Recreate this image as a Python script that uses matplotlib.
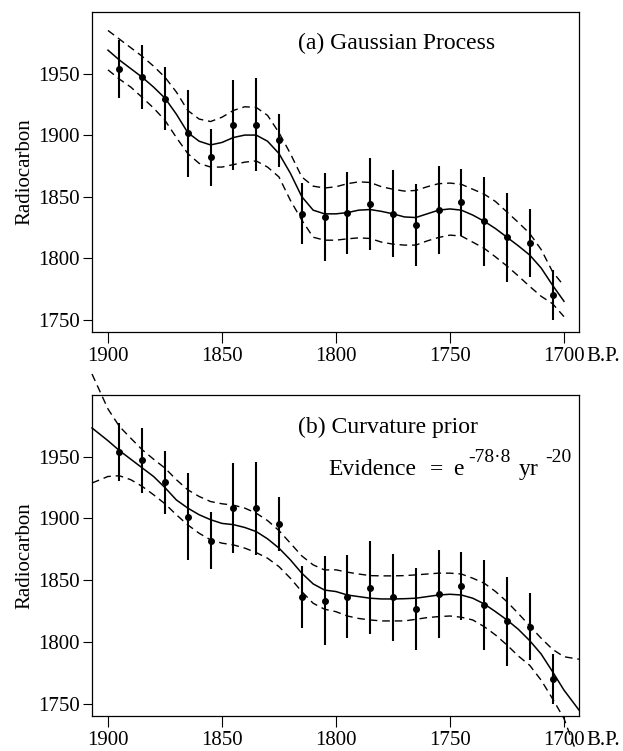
import numpy as np
import matplotlib.pyplot as plt

plt.rcParams['font.family'] = ['Liberation Serif', 'DejaVu Serif']

# radiocarbon determinations (calendar years B.P., radiocarbon age, 1-sigma)
years_obs = [1895, 1885, 1875, 1865, 1855, 1845, 1835, 1825, 1815, 1805,
             1795, 1785, 1775, 1765, 1755, 1745, 1735, 1725, 1715, 1705]
c14_obs = [1953.8, 1947, 1929.4, 1901.5, 1882, 1908.3, 1908.4, 1895.6, 1836.2, 1833.5,
           1836.7, 1844, 1836.2, 1826.8, 1839, 1845.4, 1830, 1816.8, 1812.4, 1770]
err_obs = [23.4, 26, 25.6, 35.5, 23.3, 36.4, 37.6, 21.6, 25, 35.8,
           33.5, 37.5, 35.4, 33.2, 35.8, 27.3, 36.2, 36, 27.4, 20.5]

# (a) Gaussian process fit, read every 5 years
grid_a = [1900, 1895, 1890, 1885, 1880, 1875, 1870, 1865, 1860, 1855, 1850,
          1845, 1840, 1835, 1830, 1825, 1820, 1815, 1810, 1805, 1800,
          1795, 1790, 1785, 1780, 1775, 1770, 1765, 1760, 1755, 1750,
          1745, 1740, 1735, 1730, 1725, 1720, 1715, 1710, 1705, 1700]
mean_a = [1969, 1961, 1954, 1947, 1939, 1930, 1917, 1902, 1895, 1892, 1894,
          1898, 1900, 1900, 1895, 1885, 1869, 1850, 1839, 1836, 1836,
          1837, 1839, 1839.5, 1838, 1836, 1833.5, 1833, 1836, 1839, 1840,
          1839, 1835, 1830, 1824, 1817, 1810, 1802.5, 1792, 1778, 1765]
upper_a = [1985, 1978, 1971, 1964, 1956, 1947, 1935, 1920, 1913, 1911, 1914.5,
           1920, 1923, 1922.5, 1916, 1902, 1885, 1866, 1858.5, 1857, 1858,
           1860.5, 1862, 1861.5, 1858, 1856, 1854.5, 1855, 1858, 1860.5, 1861,
           1860, 1856, 1852, 1846, 1837.5, 1829, 1820, 1807, 1789, 1777.5]
lower_a = [1953, 1945.5, 1939, 1930.6, 1922, 1912, 1898, 1885, 1877, 1874, 1874,
           1876, 1878, 1879, 1874, 1866, 1847, 1831, 1817, 1814.6, 1814.6,
           1815.7, 1816.5, 1816, 1813, 1811.4, 1810.6, 1810.6, 1814, 1816.8, 1818.7,
           1818, 1813, 1808, 1801, 1793.6, 1785.5, 1777, 1769, 1763, 1752.5]

# (b) curvature prior fit, from the left edge to the right edge
grid_b = [1907, 1900, 1895, 1890, 1885, 1880, 1875, 1870, 1865, 1860, 1855, 1850,
          1845, 1840, 1835, 1830, 1825, 1820, 1815, 1810, 1805, 1800,
          1795, 1790, 1785, 1780, 1775, 1770, 1765, 1760, 1755, 1750,
          1745, 1740, 1735, 1730, 1725, 1720, 1715, 1710, 1705, 1700, 1693.4]
mean_b = [1973.3, 1963, 1955, 1948, 1941, 1934, 1925, 1915, 1908.4, 1903, 1899, 1896,
          1895, 1892.7, 1889.4, 1883.5, 1876, 1866.5, 1855.7, 1847, 1842, 1840.8,
          1838, 1836.7, 1835.4, 1834.8, 1834.8, 1835, 1835.4, 1836.7, 1838, 1838.6,
          1838, 1835.4, 1830.8, 1824.5, 1817.8, 1810.2, 1801, 1790.2, 1775.9, 1761, 1744.8]
upper_b = [2017, 1988.7, 1974.6, 1965, 1955.7, 1948, 1940.8, 1931.4, 1923.2, 1917.8, 1913.7, 1911.9,
           1910.8, 1908.4, 1904.3, 1898.3, 1890.2, 1880, 1869.7, 1862.4, 1858.3, 1858.4,
           1856.5, 1855, 1853.7, 1853.5, 1853.5, 1853.7, 1854.3, 1855, 1855.7, 1855.7,
           1855, 1851.6, 1847.6, 1840.8, 1832.6, 1823, 1813, 1803, 1794, 1788, 1786]
lower_b = [1928.7, 1934, 1934.6, 1931.4, 1926, 1919.2, 1911.9, 1903, 1894.8, 1888, 1882.7, 1880,
           1878.6, 1876, 1872.4, 1867.8, 1861, 1851.6, 1840.8, 1831.3, 1826.5, 1824.5,
           1821, 1819, 1817.8, 1817, 1817, 1817, 1818.3, 1819.7, 1820.5, 1821,
           1820, 1817.8, 1812.4, 1805.6, 1797.5, 1788.6, 1781, 1769, 1754, 1738, 1705]

year_ticks = [1900, 1850, 1800, 1750, 1700]
c14_ticks = [1750, 1800, 1850, 1900, 1950]

W, H = 623, 751
fig = plt.figure(figsize=(W / 100, H / 100), dpi=100)
ax_a = fig.add_axes([92 / W, 1 - 332 / H, 487 / W, 320 / H])
ax_b = fig.add_axes([92 / W, 1 - 716 / H, 487 / W, 321 / H])

dash = (5.5, 3.5)

for ax in (ax_a, ax_b):
    ax.set_xlim(1907, 1693.4)
    ax.set_ylim(1740, 2000)
    ax.set_xticks(year_ticks)
    ax.set_yticks(c14_ticks)
    ax.tick_params(axis='x', length=8, width=0.8, pad=2.5, labelsize=15)
    ax.tick_params(axis='y', length=6.5, width=0.8, pad=2.5, labelsize=15)
    for s in ax.spines.values():
        s.set_linewidth(0.9)
    ax.set_ylabel('Radiocarbon', fontsize=15)
    ax.yaxis.set_label_coords(-0.118, 0.5)
    ax.errorbar(years_obs, c14_obs, yerr=err_obs, fmt='o', color='black',
                ms=4, elinewidth=1.5, capsize=0)
    ax.annotate('B.P.', xy=(1700, 0), xycoords=ax.get_xaxis_transform(),
                xytext=(16, -10.5), textcoords='offset points',
                ha='left', va='top', fontsize=15)

# panel (a)
ax_a.plot(grid_a, mean_a, color='black', lw=1.1)
ax_a.plot(grid_a, upper_a, color='black', lw=1.0, dashes=dash)
ax_a.plot(grid_a, lower_a, color='black', lw=1.0, dashes=dash)
ax_a.text(1816.7, 1970, '(a) Gaussian Process', fontsize=17, va='baseline')

# panel (b): curves run past the top and bottom of the frame
ax_b.plot(grid_b, mean_b, color='black', lw=1.1, clip_on=False)
ax_b.plot(grid_b, upper_b, color='black', lw=1.0, dashes=dash, clip_on=False)
ax_b.plot(grid_b, lower_b, color='black', lw=1.0, dashes=dash, clip_on=False)
ax_b.text(1816.7, 1969.5, '(b) Curvature prior', fontsize=17, va='baseline')
ax_b.text(1803.5, 1935.4, 'Evidence', fontsize=17, va='baseline')
ax_b.text(1756, 1935.4, '=', fontsize=17, va='baseline', ha='center')
ax_b.text(1748.7, 1935.4, 'e', fontsize=17, va='baseline')
ax_b.text(1742, 1946, '-78\u00b78', fontsize=14, va='baseline')
ax_b.text(1720, 1935.4, 'yr', fontsize=17, va='baseline')
ax_b.text(1708.3, 1946, '-20', fontsize=14, va='baseline')

fig.savefig('out.png', dpi=100)
